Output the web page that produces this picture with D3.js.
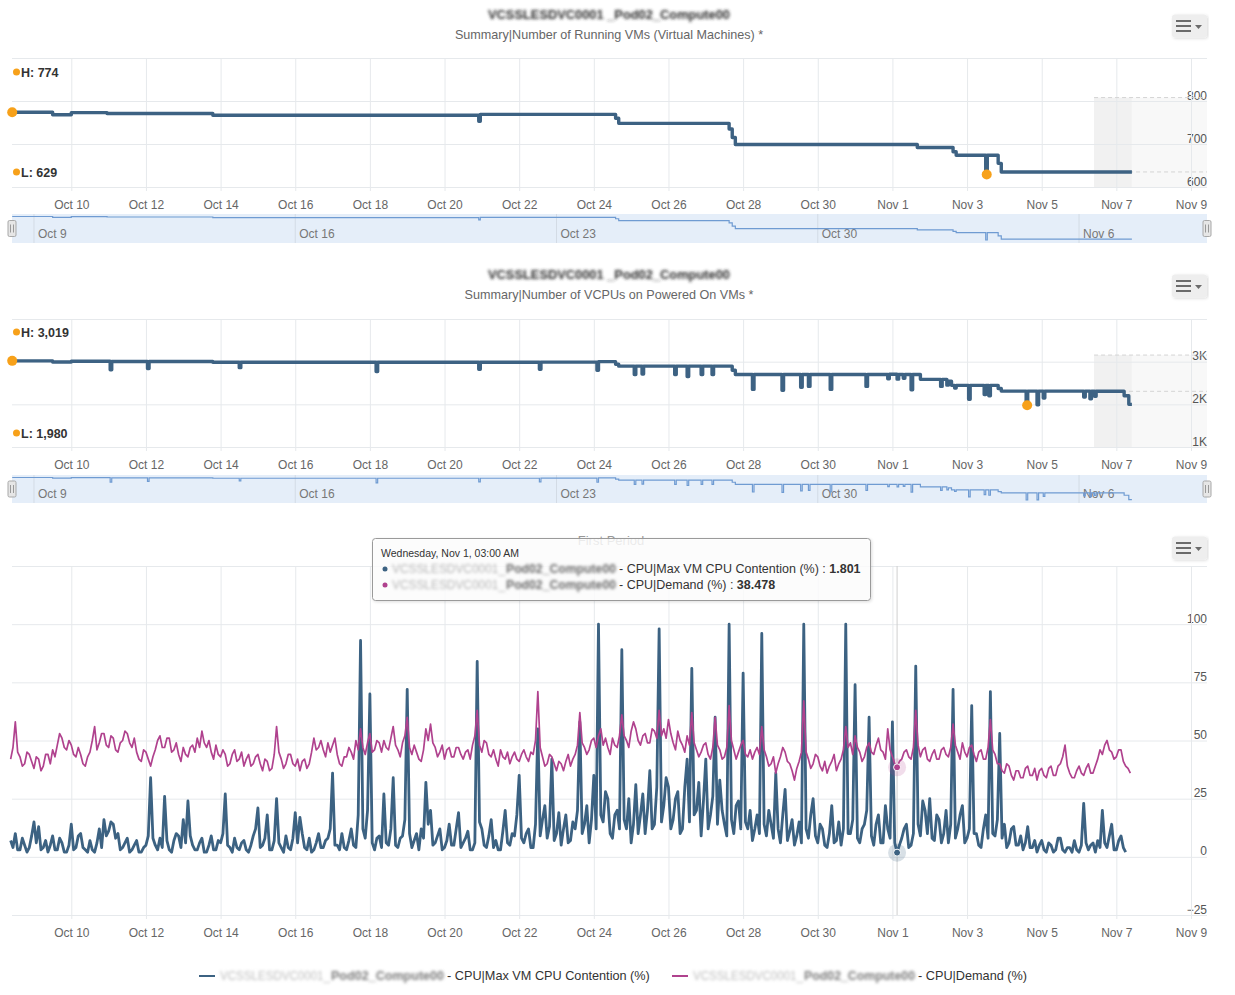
<!DOCTYPE html>
<html><head><meta charset="utf-8">
<script src="https://cdn.jsdelivr.net/npm/d3@7"></script>
<style>
body{margin:0;background:#fff;}
svg{display:block;font-family:"Liberation Sans",Arial,Helvetica,sans-serif;}
</style></head><body>
<svg id="c" width="1235" height="995"></svg>
<script>
// ---------------- DATA ----------------
const xTickLabels = ["2017-10-10","2017-10-12","2017-10-14","2017-10-16","2017-10-18","2017-10-20","2017-10-22","2017-10-24","2017-10-26","2017-10-28","2017-10-30","2017-11-01","2017-11-03","2017-11-05","2017-11-07","2017-11-09"];
const navTickLabels = ["2017-10-09","2017-10-16","2017-10-23","2017-10-30","2017-11-06"];

const vmTitle = "VCSSLESDVC0001 _Pod02_Compute00";
const vmSubtitle = "Summary|Number of Running VMs (Virtual Machines) *";
const vmTimes = ["2017-10-08 10:00","2017-10-09 12:00","2017-10-10 00:00","2017-10-10 23:00","2017-10-13 19:00","2017-10-20 22:00","2017-10-20 23:00","2017-10-24 14:00","2017-10-24 16:00","2017-10-27 15:00","2017-10-27 17:00","2017-10-27 19:00","2017-11-01 16:00","2017-11-02 15:00","2017-11-02 17:00","2017-11-03 12:00","2017-11-03 13:00","2017-11-03 20:00","2017-11-03 22:00","2017-11-07 10:00"];
const vmCounts = [774,768,773,771,767,753,769,760,748,735,715,699,692,682,674,629,674,655,635,635];
const vmYTicks = [600,700,800];
const vmGrid = [600,700,800,900];
const vmBand = [635,808];

const vcpuTitle = "VCSSLESDVC0001 _Pod02_Compute00";
const vcpuSubtitle = "Summary|Number of VCPUs on Powered On VMs *";
const vcpuTimes = ["2017-10-08 10:00","2017-10-09 12:00","2017-10-10 00:00","2017-10-11 01:00","2017-10-11 02:00","2017-10-12 01:00","2017-10-12 02:00","2017-10-13 19:00","2017-10-14 12:00","2017-10-14 13:00","2017-10-18 04:00","2017-10-18 05:00","2017-10-20 22:00","2017-10-20 23:00","2017-10-22 13:00","2017-10-22 14:00","2017-10-24 02:00","2017-10-24 03:00","2017-10-24 14:00","2017-10-24 16:00","2017-10-25 02:00","2017-10-25 03:00","2017-10-25 07:00","2017-10-25 08:00","2017-10-26 04:00","2017-10-26 05:00","2017-10-26 12:00","2017-10-26 13:00","2017-10-26 21:00","2017-10-26 22:00","2017-10-27 04:00","2017-10-27 05:00","2017-10-27 17:00","2017-10-27 19:00","2017-10-28 06:00","2017-10-28 07:00","2017-10-29 01:00","2017-10-29 02:00","2017-10-29 13:00","2017-10-29 14:00","2017-10-29 18:00","2017-10-29 19:00","2017-10-30 08:00","2017-10-30 09:00","2017-10-31 07:00","2017-10-31 08:00","2017-10-31 21:00","2017-10-31 22:00","2017-11-01 03:00","2017-11-01 04:00","2017-11-01 07:00","2017-11-01 08:00","2017-11-01 12:00","2017-11-01 13:00","2017-11-01 18:00","2017-11-02 07:00","2017-11-02 08:00","2017-11-02 11:00","2017-11-02 12:00","2017-11-02 14:00","2017-11-02 16:00","2017-11-02 17:00","2017-11-03 01:00","2017-11-03 02:00","2017-11-03 11:00","2017-11-03 12:00","2017-11-03 14:00","2017-11-03 15:00","2017-11-03 20:00","2017-11-03 22:00","2017-11-04 14:00","2017-11-04 15:00","2017-11-04 21:00","2017-11-04 22:00","2017-11-05 01:00","2017-11-05 02:00","2017-11-06 03:00","2017-11-06 04:00","2017-11-06 07:00","2017-11-06 08:00","2017-11-06 10:00","2017-11-06 11:00","2017-11-07 05:00","2017-11-07 08:00","2017-11-07 10:00"];
const vcpuCounts = [3019,2993,3010,2810,3005,2840,3005,2985,2860,2985,2770,2985,2820,2985,2820,2990,2800,3000,2940,2895,2700,2895,2710,2895,2700,2895,2650,2895,2700,2895,2700,2895,2800,2700,2350,2700,2330,2700,2400,2700,2420,2700,2350,2700,2420,2700,2600,2705,2590,2700,2610,2700,2340,2700,2585,2420,2585,2450,2540,2445,2380,2445,2120,2445,2230,2445,2200,2445,2370,2310,1980,2310,1990,2310,2150,2310,2170,2310,2130,2310,2190,2305,2200,2000,2000];
const vcpuYTicks = [1000,2000,3000];
const vcpuGrid = [1000,2000,3000,4000];
const vcpuBand = [2305,3155];
const bandStart = "2017-11-06 09:40";

const cpuTitle = "First Period";
const cpuStart = "2017-10-08 09:00";
const cpuStepMinutes = 90;
const cpuSeriesNames = ["VCSSLESDVC0001_Pod02_Compute00 - CPU|Max VM CPU Contention (%)","VCSSLESDVC0001_Pod02_Compute00 - CPU|Demand (%)"];
const contention = [
7,4,10,3,3,8,5,2,4,9,15,6,13,3,4,7,2,5,9,3,
3,8,6,2,2,5,14,3,4,9,10,4,3,2,7,3,2,6,12,4,
16,9,11,15,14,8,10,3,4,6,8,2,3,5,7,2,2,4,5,9,
34,8,5,3,8,4,26,7,3,2,7,10,9,4,16,6,24,9,5,3,
3,6,8,2,2,5,9,3,3,7,6,10,27,5,4,2,8,4,3,6,
7,3,2,5,9,12,21,4,5,8,18,3,3,7,25,6,4,2,9,4,
3,8,19,6,17,10,4,3,8,2,3,6,10,4,4,7,8,12,36,5,
5,3,10,4,3,7,12,5,4,18,93,12,8,20,70,6,3,8,9,4,
27,6,5,12,34,5,4,8,9,16,72,10,4,7,10,3,12,8,32,14,
20,5,6,9,12,3,4,7,14,5,5,12,19,4,6,8,11,3,3,6,
84,15,12,5,4,9,16,4,7,3,3,11,20,6,5,10,9,18,35,8,
6,10,12,4,4,14,55,9,16,22,8,13,42,7,10,19,5,12,18,6,
7,15,12,20,58,10,14,22,6,16,35,12,100,18,15,28,25,10,8,18,
20,12,89,16,12,25,6,14,31,10,18,27,10,20,37,12,14,30,98,15,
22,34,30,12,16,25,28,10,12,30,42,15,81,18,20,32,9,24,42,12,
18,26,60,14,33,20,14,9,100,16,10,22,24,12,79,15,12,20,7,12,
18,10,96,14,9,20,14,8,36,12,6,18,29,7,11,16,5,9,15,6,
100,12,8,18,25,9,6,14,12,5,4,10,22,6,7,15,5,12,100,10,
10,16,74,8,6,12,14,20,60,9,5,14,18,6,6,22,12,8,58,6,
1.801,5,8,12,14,4,5,10,82,14,9,24,20,10,25,8,7,18,16,6,
10,20,6,14,72,8,12,18,22,6,8,12,65,10,10,5,4,12,18,8,
71,10,9,16,53,8,14,4,6,12,13,5,5,9,3,6,13,4,4,7,
2,5,7,3,2,6,5,2,3,8,8,3,2,4,4,2,7,3,2,5,
23,6,3,5,6,2,7,4,20,6,4,9,14,3,3,7,9,4,
2];
const demand = [
42,47,58,45,43,39,40,45,44,41,38,43,42,37,39,44,44,40,46,43,
48,53,51,47,46,50,48,44,43,47,44,40,39,43,45,50,56,46,49,53,
53,48,47,52,51,46,45,49,50,54,53,49,47,51,45,42,41,46,45,42,
39,43,46,50,52,47,47,51,51,45,46,49,44,41,47,44,43,47,48,45,
51,47,54,49,47,50,45,42,48,44,43,46,44,39,40,44,46,41,42,45,
39,42,44,39,40,43,44,40,37,42,41,37,38,44,56,45,42,38,40,44,
44,40,39,42,37,41,42,38,40,45,51,46,47,50,46,43,49,45,48,51,
44,40,39,43,43,47,45,42,50,46,55,47,44,49,53,45,46,50,49,45,
50,47,46,51,56,48,46,43,49,52,60,47,44,48,45,42,41,46,55,50,
57,49,47,43,45,48,42,46,47,43,43,47,47,44,42,45,46,42,48,52,
63,48,45,50,49,44,43,46,42,39,46,43,42,45,40,43,45,42,41,44,
46,43,41,45,44,50,71,47,43,39,40,44,43,40,37,41,40,37,41,44,
39,42,44,48,62,49,47,44,46,50,51,47,52,55,48,51,47,44,51,48,
47,52,61,52,50,47,54,58,55,50,48,52,53,49,49,55,54,51,63,52,
55,51,59,53,49,46,54,50,48,45,52,48,62,49,46,43,45,48,49,44,
42,47,60,48,46,42,43,47,65,50,46,42,45,48,50,44,43,46,42,45,
47,44,56,46,43,39,40,43,36,40,43,47,45,41,40,37,33,38,41,45,
67,45,42,38,40,44,43,39,37,41,36,39,41,44,37,40,42,46,56,47,
49,44,52,47,45,41,43,47,49,45,44,48,51,46,45,42,55,46,43,40,
38.478,41,42,45,46,43,42,47,63,48,43,46,47,42,41,44,46,42,42,46,
47,44,43,47,57,48,45,42,49,45,43,47,48,44,41,45,46,42,42,47,
59,46,44,40,40,37,36,40,39,35,33,37,37,34,34,38,39,35,35,38,
33,37,38,35,34,38,39,35,35,39,40,43,48,39,36,34,34,37,39,36,
35,38,40,36,36,39,42,46,44,48,50,46,45,42,43,46,46,41,39,38,
36];
const hoverIndex = 380;
const cpuYTicks = [-25,0,25,50,75,100];
const cpuGrid = [-25,0,25,50,75,100,125];

// ---------------- SETUP ----------------
const svg = d3.select("#c");
const defs = svg.append("defs");
defs.append("filter").attr("id","blur").attr("x","-5%").attr("y","-60%").attr("width","110%").attr("height","220%")
  .append("feGaussianBlur").attr("stdDeviation",1.6);
defs.append("filter").attr("id","blurT").attr("x","-5%").attr("y","-60%").attr("width","110%").attr("height","220%")
  .append("feGaussianBlur").attr("stdDeviation",1.7);
defs.append("filter").attr("id","shadow").attr("x","-5%").attr("y","-10%").attr("width","110%").attr("height","130%")
  .append("feDropShadow").attr("dx",1).attr("dy",1).attr("stdDeviation",1.5).attr("flood-opacity",0.15);

const parseT = d3.timeParse("%Y-%m-%d %H:%M");
const parseD = d3.timeParse("%Y-%m-%d");
const L = 12, R = 1207;
const x = d3.scaleTime().domain([parseD("2017-10-10"), parseD("2017-11-09")]).range([71.3, 1191]);
const fmtTick = d3.timeFormat("%b %-d");
const xTicks = xTickLabels.map(parseD);
const navTicks = navTickLabels.map(parseD);
const ORANGE = "#f7a11a";
const LINE = "#3d6283";
const BLUE = "#3c6282";
const PINK = "#b0428e";
const GRID = "#e6e9ec";

function menu(cy) {
  const g = svg.append("g");
  g.append("rect").attr("x",1172).attr("y",cy-11.5).attr("width",35).attr("height",23).attr("rx",3)
    .attr("fill","#eeeeee").attr("filter","url(#shadow)");
  [-5,0,5].forEach(d => g.append("line").attr("x1",1176).attr("x2",1191).attr("y1",cy+d).attr("y2",cy+d)
    .attr("stroke","#6b6b6b").attr("stroke-width",2));
  g.append("path").attr("d",`M1195,${cy-1}L1202,${cy-1}L1198.5,${cy+3}Z`).attr("fill","#6b6b6b");
}

function redacted(g, xp, y, txt, len, color, size, weight, anchor, filt) {
  return g.append("text").attr("x",xp).attr("y",y).attr("font-size",size).attr("font-weight",weight||"normal")
    .attr("text-anchor",anchor||"start").attr("fill",color).attr("textLength",len).attr("lengthAdjust","spacingAndGlyphs")
    .attr("filter",`url(#${filt||"blur"})`).text(txt);
}

function xGrid(g, top, bottom) {
  g.append("g").attr("transform",`translate(0,${bottom+4})`)
    .call(d3.axisBottom(x).tickValues(xTicks).tickSize(-(bottom-top+4)).tickFormat(""))
    .call(s => { s.select(".domain").remove(); s.selectAll("line").attr("stroke",GRID); });
  g.append("g").attr("transform",`translate(0,${bottom})`)
    .call(d3.axisBottom(x).tickValues(xTicks).tickSize(0).tickPadding(13).tickFormat(fmtTick))
    .call(s => { s.select(".domain").remove(); s.selectAll("text").attr("fill","#666").attr("font-size",12).attr("font-family","Liberation Sans, Arial"); });
}

function yGrid(g, y, grid, ticks, fmt) {
  g.append("g").attr("transform",`translate(${R},0)`)
    .call(d3.axisLeft(y).tickValues(grid).tickSize(R-L).tickFormat(""))
    .call(s => { s.select(".domain").remove(); s.selectAll("line").attr("stroke",GRID); });
  g.append("g").attr("transform",`translate(${R},0)`)
    .call(d3.axisLeft(y).tickValues(ticks).tickSize(0).tickPadding(0).tickFormat(fmt))
    .call(s => { s.select(".domain").remove();
      s.selectAll("text").attr("fill","#555").attr("font-size",12).attr("dy",-2).attr("font-family","Liberation Sans, Arial"); });
}

function stockPanel(o) {
  const g = svg.append("g");
  const data = o.times.map((t,i) => ({t: parseT(t), v: o.values[i]}));
  const y = d3.scaleLinear().domain(o.yDomain).range([o.bottom, o.top]);

  redacted(g, 609, o.titleY, o.title, 242, "#2a2a2a", 12.5, "bold", "middle", "blurT");
  g.append("text").attr("x",609).attr("y",o.titleY+20).attr("text-anchor","middle").attr("fill","#666")
    .attr("font-size",12.6).text(o.subtitle);
  menu(o.titleY+7);

  const bx0 = x(parseT(bandStart)), bx1 = x(data[data.length-1].t);
  g.append("rect").attr("x",bx0).attr("y",y(o.band[1])).attr("width",bx1-bx0).attr("height",o.bottom-y(o.band[1])).attr("fill","#f1f1f1");
  g.append("rect").attr("x",bx1).attr("y",y(o.band[1])).attr("width",R-bx1).attr("height",o.bottom-y(o.band[1])).attr("fill","#f8f8f8");

  yGrid(g, y, o.grid, o.ticks, o.fmt);
  xGrid(g, o.top, o.bottom);

  o.band.forEach(b => g.append("line").attr("x1",bx0).attr("x2",R).attr("y1",y(b)).attr("y2",y(b))
    .attr("stroke","#d4d4d4").attr("stroke-dasharray","4,3"));

  const line = d3.line().x(d => x(d.t)).y(d => y(d.v)).curve(d3.curveStepAfter);
  g.append("path").datum(data).attr("d",line).attr("fill","none").attr("stroke",LINE).attr("stroke-width",3.4)
    .attr("stroke-linejoin","round");

  const hi = data[d3.maxIndex(data, d => d.v)], lo = data[d3.minIndex(data, d => d.v)];
  const f = d3.format(",");
  g.append("circle").attr("cx",x(hi.t)).attr("cy",y(hi.v)).attr("r",5).attr("fill",ORANGE);
  g.append("circle").attr("cx",x(lo.t)+1).attr("cy",y(lo.v)).attr("r",5).attr("fill",ORANGE);
  [[o.hiY,"H: "+f(hi.v)],[o.loY,"L: "+f(lo.v)]].forEach(([yy,t]) => {
    g.append("circle").attr("cx",16.5).attr("cy",yy).attr("r",3.5).attr("fill",ORANGE);
    g.append("text").attr("x",21).attr("y",yy+4.5).attr("font-size",12.5).attr("font-weight","bold").attr("fill","#333").text(t);
  });

  const nt = o.navTop, nb = o.navBottom;
  g.append("rect").attr("x",L).attr("y",nt).attr("width",R-L).attr("height",nb-nt).attr("fill","#e5eef9");
  navTicks.forEach(d => {
    g.append("line").attr("x1",x(d)).attr("x2",x(d)).attr("y1",nt).attr("y2",nb).attr("stroke","#d3dbe5");
    g.append("text").attr("x",x(d)+4).attr("y",nb-5).attr("font-size",12).attr("fill","#777").text(fmtTick(d));
  });
  const ny = d3.scaleLinear().domain([lo.v, hi.v]).range([nb-3, nt+2.5]);
  g.append("path").datum(data).attr("d", d3.line().x(d => x(d.t)).y(d => ny(d.v)).curve(d3.curveStepAfter))
    .attr("fill","none").attr("stroke","#6f9bd2").attr("stroke-width",1.2);
  [L, R].forEach(hx => {
    const cy = (nt+nb)/2;
    g.append("rect").attr("x",hx-4).attr("y",cy-8).attr("width",8).attr("height",16).attr("rx",1.5)
      .attr("fill","#e6e6e6").attr("stroke","#a8a8a8");
    [-1.5,1.5].forEach(dx => g.append("line").attr("x1",hx+dx).attr("x2",hx+dx).attr("y1",cy-4).attr("y2",cy+4).attr("stroke","#999"));
  });
}

stockPanel({times: vmTimes, values: vmCounts, yDomain: [600,900], top: 58, bottom: 187,
  grid: vmGrid, ticks: vmYTicks, fmt: d3.format("d"), band: vmBand, title: vmTitle, subtitle: vmSubtitle,
  titleY: 19, hiY: 72, loY: 172, navTop: 214, navBottom: 243});
stockPanel({times: vcpuTimes, values: vcpuCounts, yDomain: [1000,4000], top: 319, bottom: 447,
  grid: vcpuGrid, ticks: vcpuYTicks, fmt: d => (d/1000)+"K", band: vcpuBand, title: vcpuTitle, subtitle: vcpuSubtitle,
  titleY: 279, hiY: 332, loY: 433, navTop: 475, navBottom: 503});

// ---------------- CHART 3 ----------------
(function(){
  const g = svg.append("g");
  const top = 566, bottom = 915;
  const y = d3.scaleLinear().domain([-25,125]).range([bottom, top]);
  const t0 = parseT(cpuStart);
  const tAt = i => d3.timeMinute.offset(t0, i*cpuStepMinutes);
  const blue = contention.map((v,i) => ({t: tAt(i), v}));
  const pink = demand.map((v,i) => ({t: tAt(i), v}));

  g.append("text").attr("x",611).attr("y",545).attr("text-anchor","middle").attr("fill","#999").attr("font-size",13).text(cpuTitle);
  menu(548);
  yGrid(g, y, cpuGrid, cpuYTicks, d3.format("d"));
  xGrid(g, top, bottom);

  const ht = tAt(hoverIndex);
  g.append("line").attr("x1",x(ht)).attr("x2",x(ht)).attr("y1",top).attr("y2",bottom).attr("stroke","#cfcfcf");

  const line = d3.line().x(d => x(d.t)).y(d => y(d.v)).curve(d3.curveLinear);
  g.append("path").datum(blue).attr("d",line).attr("fill","none").attr("stroke",BLUE).attr("stroke-width",2.8).attr("stroke-linejoin","round");
  g.append("path").datum(pink).attr("d",line).attr("fill","none").attr("stroke",PINK).attr("stroke-width",1.7).attr("stroke-linejoin","round");

  g.append("circle").attr("cx",x(ht)).attr("cy",y(demand[hoverIndex])).attr("r",9).attr("fill",PINK).attr("opacity",0.18);
  g.append("circle").attr("cx",x(ht)).attr("cy",y(demand[hoverIndex])).attr("r",3.5).attr("fill",PINK).attr("stroke","#fff");
  g.append("circle").attr("cx",x(ht)).attr("cy",y(contention[hoverIndex])).attr("r",9).attr("fill",BLUE).attr("opacity",0.2);
  g.append("circle").attr("cx",x(ht)).attr("cy",y(contention[hoverIndex])).attr("r",3.5).attr("fill",BLUE).attr("stroke","#fff");

  const tt = svg.append("g");
  tt.append("rect").attr("x",372.5).attr("y",538.5).attr("width",498).attr("height",62).attr("rx",3)
    .attr("fill","#fff").attr("fill-opacity",0.8).attr("stroke","#9a9a9a").attr("filter","url(#shadow)");
  tt.append("text").attr("x",381).attr("y",557).attr("font-size",10.5).attr("fill","#333")
    .text(d3.timeFormat("%A, %b %-d, %I:%M %p")(ht));
  const rows = [[contention[hoverIndex], BLUE, cpuSeriesNames[0]], [demand[hoverIndex], PINK, cpuSeriesNames[1]]];
  rows.forEach(([v,c,name],k) => {
    const yy = 573 + k*16;
    const [nm, metric] = name.split(" - ");
    const [a, b] = nm.split("_Pod");
    tt.append("circle").attr("cx",385).attr("cy",yy-4).attr("r",2.5).attr("fill",c);
    redacted(tt, 392, yy, a+"_", 113, "#b5b5b5", 12, "normal");
    redacted(tt, 506, yy, "Pod"+b, 110, "#6a6a6a", 12, "bold");
    const t = tt.append("text").attr("x",619).attr("y",yy).attr("font-size",12.5).attr("fill","#333");
    t.append("tspan").text("- " + metric + " : ");
    t.append("tspan").attr("font-weight","bold").text(String(v));
  });

  const lg = svg.append("g");
  const items = [{x:199, c:BLUE, name: cpuSeriesNames[0], len1: 110, len2: 113},
                 {x:672, c:PINK, name: cpuSeriesNames[1], len1: 110, len2: 111}];
  items.forEach(it => {
    const yy = 980;
    const [nm, metric] = it.name.split(" - ");
    const [a, b] = nm.split("_Pod");
    lg.append("line").attr("x1",it.x).attr("x2",it.x+16).attr("y1",yy-4).attr("y2",yy-4).attr("stroke",it.c).attr("stroke-width",2);
    redacted(lg, it.x+21, yy, a+"_", it.len1, "#bdbdbd", 12, "normal");
    redacted(lg, it.x+21+it.len1+1, yy, "Pod"+b, it.len2, "#7a7a7a", 12, "bold");
    lg.append("text").attr("x",it.x+21+it.len1+it.len2+4).attr("y",yy).attr("font-size",12.7).attr("fill","#333").text("- " + metric);
  });
})();
</script>
</body></html>
